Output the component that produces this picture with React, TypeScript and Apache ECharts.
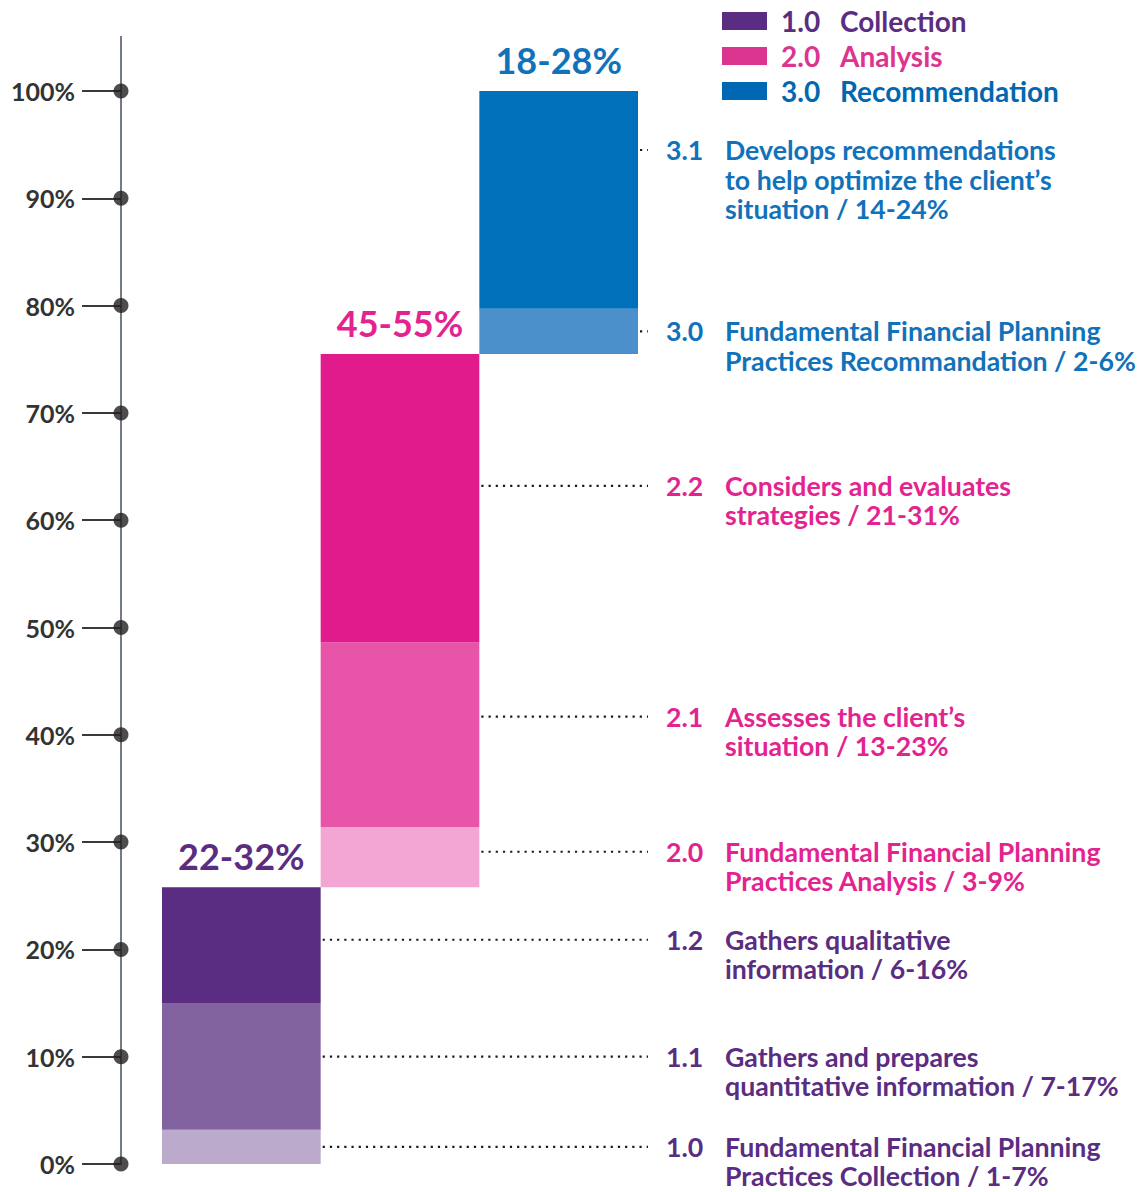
import React, { useEffect, useRef } from 'react';
import * as echarts from 'echarts';

// ---------- data ----------
const columns = ['1.0 Collection', '2.0 Analysis', '3.0 Recommendation'];
const columnRanges = ['22-32%', '45-55%', '18-28%'];
const columnStart = [0, 25.8, 75.5];
const practicesShare = [3.2, 5.6, 4.2]; // 1.0 / 2.0 / 3.0
const firstCompetencyShare = [11.8, 17.2, 20.3]; // 1.1 / 2.1 / 3.1
const secondCompetencyShare = [10.8, 26.9, 0]; // 1.2 / 2.2
const yTicks = [0, 10, 20, 30, 40, 50, 60, 70, 80, 90, 100];

const legendCodes = ['1.0', '2.0', '3.0'];
const legendNames = ['Collection', 'Analysis', 'Recommendation'];

const itemCodes = ['3.1', '3.0', '2.2', '2.1', '2.0', '1.2', '1.1', '1.0'];
const itemTexts = [
  'Develops recommendations\nto help optimize the client\u2019s\nsituation / 14-24%',
  'Fundamental Financial Planning\nPractices Recommandation / 2-6%',
  'Considers and evaluates\nstrategies / 21-31%',
  'Assesses the client\u2019s\nsituation / 13-23%',
  'Fundamental Financial Planning\nPractices Analysis / 3-9%',
  'Gathers qualitative\ninformation / 6-16%',
  'Gathers and prepares\nquantitative information / 7-17%',
  'Fundamental Financial Planning\nPractices Collection / 1-7%',
];
const itemColumn = [2, 2, 1, 1, 1, 0, 0, 0];
const itemCalloutAt = [94.5, 77.6, 63.2, 41.7, 29.1, 20.9, 10.0, 1.6];

// ---------- styles ----------
const FONT = 'Lato, "Open Sans", "DejaVu Sans", sans-serif';
const segmentColors = [
  ['#bcaacd', '#8263a0', '#5a2d82'],
  ['#f3a5d3', '#e855a8', '#e21b8c'],
  ['#4b8fcb', '#0070ba', '#0070ba'],
];
const textColors = ['#5a2d82', '#e3238f', '#1172ba'];
const legendColors = ['#5a2d82', '#dc358f', '#0068b2'];

export default function App() {
  const ref = useRef<HTMLDivElement>(null);

  useEffect(() => {
    if (!ref.current) return;
    const chart = echarts.init(ref.current, undefined, { renderer: 'svg' });

    const stacks = [practicesShare, firstCompetencyShare, secondCompetencyShare];
    const topIndex = columns.map((_, c) => {
      let t = 0;
      stacks.forEach((s, k) => {
        if (s[c] > 0) t = k;
      });
      return t;
    });

    const barSeries: any[] = [
      {
        type: 'bar',
        name: 'base',
        stack: 'total',
        silent: true,
        barCategoryGap: '0%',
        itemStyle: { color: 'rgba(0,0,0,0)' },
        data: columnStart,
      },
      ...stacks.map((s, k) => ({
        type: 'bar',
        name: 'seg' + k,
        stack: 'total',
        barCategoryGap: '0%',
        data: s.map((v, c) => ({
          value: v,
          itemStyle: { color: segmentColors[c][k] },
          label: {
            show: topIndex[c] === k,
            position: 'top',
            distance: 13,
            formatter: columnRanges[c],
            color: textColors[c],
            fontFamily: FONT,
            fontWeight: 'bold',
            fontSize: 36,
          },
        })),
      })),
    ];

    const legendSeries = legendNames.map((n, i) => ({
      type: 'line',
      name: n,
      data: [],
      color: legendColors[i],
    }));

    const LFS = 28;
    const rich: any = { s: { width: 9, fontSize: LFS, lineHeight: LFS } };
    legendNames.forEach((_, i) => {
      rich['c' + i] = { width: 59, color: legendColors[i], fontFamily: FONT, fontWeight: 'bold', fontSize: LFS, lineHeight: LFS };
      rich['t' + i] = { color: legendColors[i], fontFamily: FONT, fontWeight: 'bold', fontSize: LFS, lineHeight: LFS };
    });

    const option: any = {
      animation: false,
      grid: [
        { left: 162, top: 91, width: 476, height: 1073 },
        { left: 121, top: 91, width: 20, height: 1073 },
      ],
      xAxis: [
        { type: 'category', data: columns, gridIndex: 0, show: false },
        { type: 'value', min: 0, max: 1, gridIndex: 1, show: false },
      ],
      yAxis: [
        { type: 'value', min: 0, max: 100, gridIndex: 0, show: false },
        {
          type: 'value',
          min: 0,
          max: 100,
          interval: 10,
          gridIndex: 1,
          position: 'left',
          axisLine: { show: true, lineStyle: { color: '#717c86', width: 2 } },
          axisTick: { show: true, length: 39, lineStyle: { color: '#3a3a3a', width: 2 } },
          axisLabel: {
            margin: 46,
            formatter: '{value}%',
            color: '#333333',
            fontFamily: FONT,
            fontWeight: 'bold',
            fontSize: 25,
          },
          splitLine: { show: false },
        },
      ],
      legend: {
        orient: 'vertical',
        left: 722,
        top: 7,
        padding: 0,
        itemWidth: 45,
        itemHeight: 18,
        itemGap: 7,
        icon: 'rect',
        selectedMode: false,
        data: legendNames,
        formatter: (name: string) => {
          const i = legendNames.indexOf(name);
          return `{s| }{c${i}|${legendCodes[i]}}{t${i}|${name}}`;
        },
        textStyle: { fontFamily: FONT, fontWeight: 'bold', fontSize: LFS, rich },
      },
      series: [
        ...barSeries,
        ...legendSeries,
        {
          type: 'scatter',
          xAxisIndex: 1,
          yAxisIndex: 1,
          clip: false,
          symbolSize: 15,
          itemStyle: { color: '#231f20' },
          silent: true,
          data: yTicks.map((t) => [0, t]),
        },
      ],
    };

    chart.setOption(option);

    // callouts positioned through the chart's own scales
    const axisX = chart.convertToPixel({ xAxisIndex: 1 }, 0) as number;
    const axisTop = chart.convertToPixel({ yAxisIndex: 1 }, 100) as number;
    const c0 = chart.convertToPixel({ xAxisIndex: 0 }, columns[0]) as number;
    const c1 = chart.convertToPixel({ xAxisIndex: 0 }, columns[1]) as number;
    const band = c1 - c0;
    const leaderEnd = 648;
    const codeX = 666;
    const textX = 725;
    const lineH = 29.5;
    const CFS = 26.7;

    const graphics: any[] = [
      {
        type: 'line',
        silent: true,
        shape: { x1: axisX, y1: 36, x2: axisX, y2: axisTop },
        style: { stroke: '#717c86', lineWidth: 2 },
      },
    ];

    itemCodes.forEach((code, i) => {
      const col = itemColumn[i];
      const y = chart.convertToPixel({ yAxisIndex: 0 }, itemCalloutAt[i]) as number;
      const cx = chart.convertToPixel({ xAxisIndex: 0 }, columns[col]) as number;
      const right = cx + band / 2;
      const color = textColors[col];
      graphics.push({
        type: 'line',
        silent: true,
        shape: { x1: right + 2, y1: y, x2: leaderEnd, y2: y },
        style: { stroke: '#1a1a1a', lineWidth: 2.2, lineDash: [2.2, 5] },
      });
      graphics.push({
        type: 'text',
        silent: true,
        x: codeX,
        y: y - lineH / 2,
        style: {
          text: code,
          fill: color,
          fontFamily: FONT,
          fontWeight: 'bold',
          fontSize: CFS,
          lineHeight: lineH,
          align: 'left',
          verticalAlign: 'top',
        },
      });
      graphics.push({
        type: 'text',
        silent: true,
        x: textX,
        y: y - lineH / 2,
        style: {
          text: itemTexts[i],
          fill: color,
          fontFamily: FONT,
          fontWeight: 'bold',
          fontSize: CFS,
          lineHeight: lineH,
          align: 'left',
          verticalAlign: 'top',
        },
      });
    });

    chart.setOption({ graphic: graphics });

    return () => chart.dispose();
  }, []);

  return (
    <div
      ref={ref}
      style={{ position: 'absolute', left: 0, top: 0, width: 1140, height: 1192, background: '#ffffff' }}
    />
  );
}
